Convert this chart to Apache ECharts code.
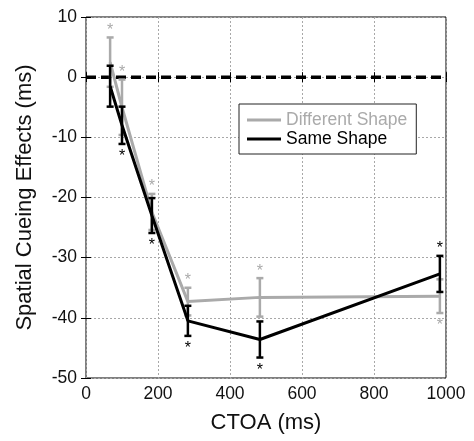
<!DOCTYPE html>
<html><head><meta charset="utf-8">
<script src="https://cdn.jsdelivr.net/npm/echarts@6/dist/echarts.min.js"></script>
<style>html,body{margin:0;padding:0;background:#fff}#c{width:474px;height:441px}</style>
</head><body><div id="c"></div>
<script>
var ctoa = [67, 100, 183, 283, 483, 983];
var diffMean = [2.5, -5, -22.4, -37.3, -36.6, -36.4];
var diffErr = [4.1, 4.6, 3.0, 2.3, 3.2, 2.8];
var diffStar = [1, 1, 1, 1, 1, -1];
var sameMean = [-1.5, -8, -23, -40.5, -43.6, -32.7];
var sameErr = [3.4, 3.1, 2.9, 2.5, 3.0, 3.0];
var sameStar = [0, -1, -1, -1, -1, 1];
var xTicks = [0, 200, 400, 600, 800, 1000];
var yTicks = [10, 0, -10, -20, -30, -40, -50];

var GRAY = '#aaaaaa';
var FONT = '"Liberation Sans", Arial, sans-serif';
function errData(mean, err, star) {
  return ctoa.map(function (x, i) { return [x, mean[i], err[i], star[i]]; });
}
function errSeries(name, mean, err, star, color) {
  return {
    type: 'custom', name: name, z: 5,
    data: errData(mean, err, star),
    renderItem: function (params, api) {
      var x = api.value(0), m = api.value(1), e = api.value(2), s = api.value(3);
      var top = api.coord([x, m + e]), bot = api.coord([x, m - e]);
      var cw = 3.5;
      var st = {stroke: color, lineWidth: 2.5};
      var ch = [
        {type: 'line', shape: {x1: top[0], y1: top[1], x2: bot[0], y2: bot[1]}, style: st},
        {type: 'line', shape: {x1: top[0] - cw, y1: top[1], x2: top[0] + cw, y2: top[1]}, style: st},
        {type: 'line', shape: {x1: bot[0] - cw, y1: bot[1], x2: bot[0] + cw, y2: bot[1]}, style: st}
      ];
      if (s !== 0) {
        var ty = s > 0 ? top[1] - 7 : bot[1] + 13;
        ch.push({type: 'text', style: {text: '*', x: top[0], y: ty, fill: color,
          font: '16px ' + FONT, align: 'center', verticalAlign: 'middle'}});
      }
      return {type: 'group', children: ch};
    }
  };
}
function lineData(mean) { return ctoa.map(function (x, i) { return [x, mean[i]]; }); }

var xMin = xTicks[0], xMax = xTicks[xTicks.length - 1];
var yMin = yTicks[yTicks.length - 1], yMax = yTicks[0];
var tickFmt = function (v) { return String(v); };

var chart = echarts.init(document.getElementById('c'), null, {renderer: 'canvas'});
chart.setOption({
  animation: false,
  backgroundColor: '#fff',
  grid: {left: 86, right: 28, top: 17, bottom: 63, show: true, borderColor: '#000', borderWidth: 1},
  legend: {
    orient: 'vertical', left: 239, top: 104,
    borderColor: '#222', borderWidth: 1, padding: [7, 9, 6, 8], itemGap: 1,
    itemWidth: 34, itemHeight: 3, backgroundColor: '#fff',
    textStyle: {fontSize: 17.5, fontFamily: FONT},
    data: [
      {name: 'Different Shape', icon: 'rect', itemStyle: {color: GRAY}, textStyle: {color: GRAY}},
      {name: 'Same Shape', icon: 'rect', itemStyle: {color: '#000'}, textStyle: {color: '#000'}}
    ]
  },
  xAxis: [{
    type: 'value', min: xMin, max: xMax, interval: 200,
    name: 'CTOA (ms)', nameLocation: 'middle', nameGap: 34,
    nameTextStyle: {fontSize: 22, color: '#111', fontFamily: FONT},
    axisLine: {show: false},
    axisTick: {inside: true, length: 5, lineStyle: {color: '#000'}},
    axisLabel: {fontSize: 17.5, color: '#111', margin: 7, fontFamily: FONT, formatter: tickFmt},
    splitLine: {show: true, lineStyle: {color: '#a8a8a8', type: [2, 2], width: 1}}
  }, {
    type: 'value', position: 'top', min: xMin, max: xMax, interval: 200,
    axisLine: {show: false}, axisLabel: {show: false}, splitLine: {show: false},
    axisTick: {inside: true, length: 5, lineStyle: {color: '#000'}}
  }],
  yAxis: [{
    type: 'value', min: yMin, max: yMax, interval: 10,
    name: 'Spatial Cueing Effects (ms)', nameLocation: 'middle', nameGap: 50,
    nameTextStyle: {fontSize: 22, color: '#111', fontFamily: FONT},
    axisLine: {show: false},
    axisTick: {inside: true, length: 5, lineStyle: {color: '#000'}},
    axisLabel: {fontSize: 17.5, color: '#111', margin: 9, fontFamily: FONT, formatter: tickFmt},
    splitLine: {show: true, lineStyle: {color: '#a8a8a8', type: [2, 2], width: 1}}
  }, {
    type: 'value', position: 'right', min: yMin, max: yMax, interval: 10,
    axisLine: {show: false}, axisLabel: {show: false}, splitLine: {show: false},
    axisTick: {inside: true, length: 5, lineStyle: {color: '#000'}}
  }],
  series: [
    {type: 'line', name: 'zero', data: [[xMin, 0], [xMax, 0]], symbol: 'none', silent: true,
      lineStyle: {color: '#000', width: 3.5, type: [10, 5]}, z: 3},
    {type: 'line', name: 'Different Shape', data: lineData(diffMean), symbol: 'none',
      lineStyle: {color: GRAY, width: 3}, itemStyle: {color: GRAY}, z: 4},
    errSeries('Different Shape', diffMean, diffErr, diffStar, GRAY),
    {type: 'line', name: 'Same Shape', data: lineData(sameMean), symbol: 'none',
      lineStyle: {color: '#000', width: 3}, itemStyle: {color: '#000'}, z: 6},
    errSeries('Same Shape', sameMean, sameErr, sameStar, '#000')
  ]
});
</script></body></html>
